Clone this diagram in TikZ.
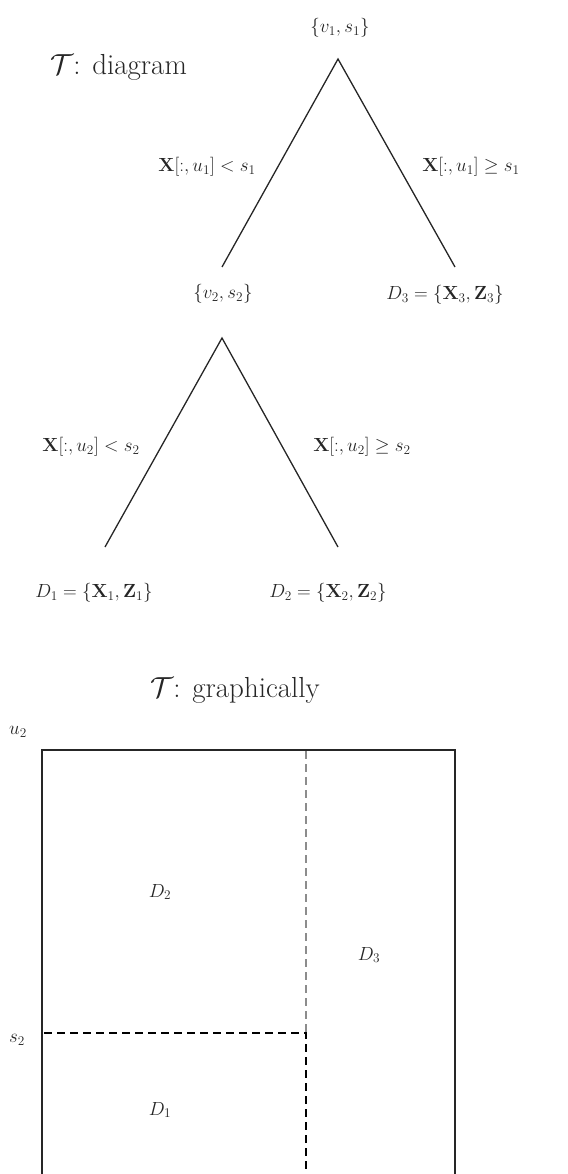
\RequirePackage{fix-cm}
\documentclass[tikz,border=0pt]{standalone}
\usepackage{amsmath}
\begin{document}
\begin{tikzpicture}[x=1pt,y=-1pt,
  lbl/.style={font=\fontsize{19}{23}\selectfont, inner sep=0pt, text=black!85},
  ttl/.style={font=\fontsize{29}{35}\selectfont, inner sep=0pt, text=black!85},
  branch/.style={line width=1.3pt, black!85},
  frame/.style={line width=1.8pt, black!85},
  cut/.style={line width=1.6pt, dash pattern=on 8pt off 5pt},
  cutgray/.style={cut, black!45}]
\useasboundingbox (0,0) rectangle (567,1174);
% titles
\node[ttl, anchor=west] (t1) at (50,67) {$\mathcal{T}$: diagram};
\node[ttl] (t2) at (235,690) {$\mathcal{T}$: graphically};
% tree level 1
\node[lbl] (n1) at (340,28) {$\{v_1, s_1\}$};
\coordinate (a1) at (338,59);
\coordinate (l1) at (222,267);
\coordinate (r1) at (455,267);
\draw[branch] (l1) -- (a1) -- (r1);
\node[lbl] (e1) at (207,167) {$\mathbf{X}[:,u_1] < s_1$};
\node[lbl] (e2) at (471,167) {$\mathbf{X}[:,u_1] \geq s_1$};
\node[lbl] (n2) at (223,294) {$\{v_2, s_2\}$};
\node[lbl] (d3) at (445,295) {$D_3 = \{\mathbf{X}_3, \mathbf{Z}_3\}$};
% tree level 2
\coordinate (a2) at (222,338);
\coordinate (l2) at (105,547);
\coordinate (r2) at (338,547);
\draw[branch] (l2) -- (a2) -- (r2);
\node[lbl] (e3) at (91,447) {$\mathbf{X}[:,u_2] < s_2$};
\node[lbl] (e4) at (362,447) {$\mathbf{X}[:,u_2] \geq s_2$};
\node[lbl] (d1) at (94,593) {$D_1 = \{\mathbf{X}_1, \mathbf{Z}_1\}$};
\node[lbl] (d2) at (328,593) {$D_2 = \{\mathbf{X}_2, \mathbf{Z}_2\}$};
% graphical partition
\coordinate (bl) at (42,1174);
\coordinate (tl) at (42,750);
\coordinate (tr) at (455,750);
\coordinate (br) at (455,1174);
\coordinate (vt) at (306,751);
\coordinate (vm) at (306,1033);
\coordinate (vb) at (306,1174);
\coordinate (hl) at (44,1033);
\draw[frame] (bl) -- (tl) -- (tr) -- (br);
\draw[cutgray] (vt) -- (vm);
\draw[cut] (hl) -- (vm) -- (vb);
\node[lbl] (u2) at (18,732) {$u_2$};
\node[lbl] (s2) at (17,1040) {$s_2$};
\node[lbl] (D2) at (160,892) {$D_2$};
\node[lbl] (D3) at (369,955) {$D_3$};
\node[lbl] (D1) at (160,1110) {$D_1$};
\end{tikzpicture}
\end{document}
